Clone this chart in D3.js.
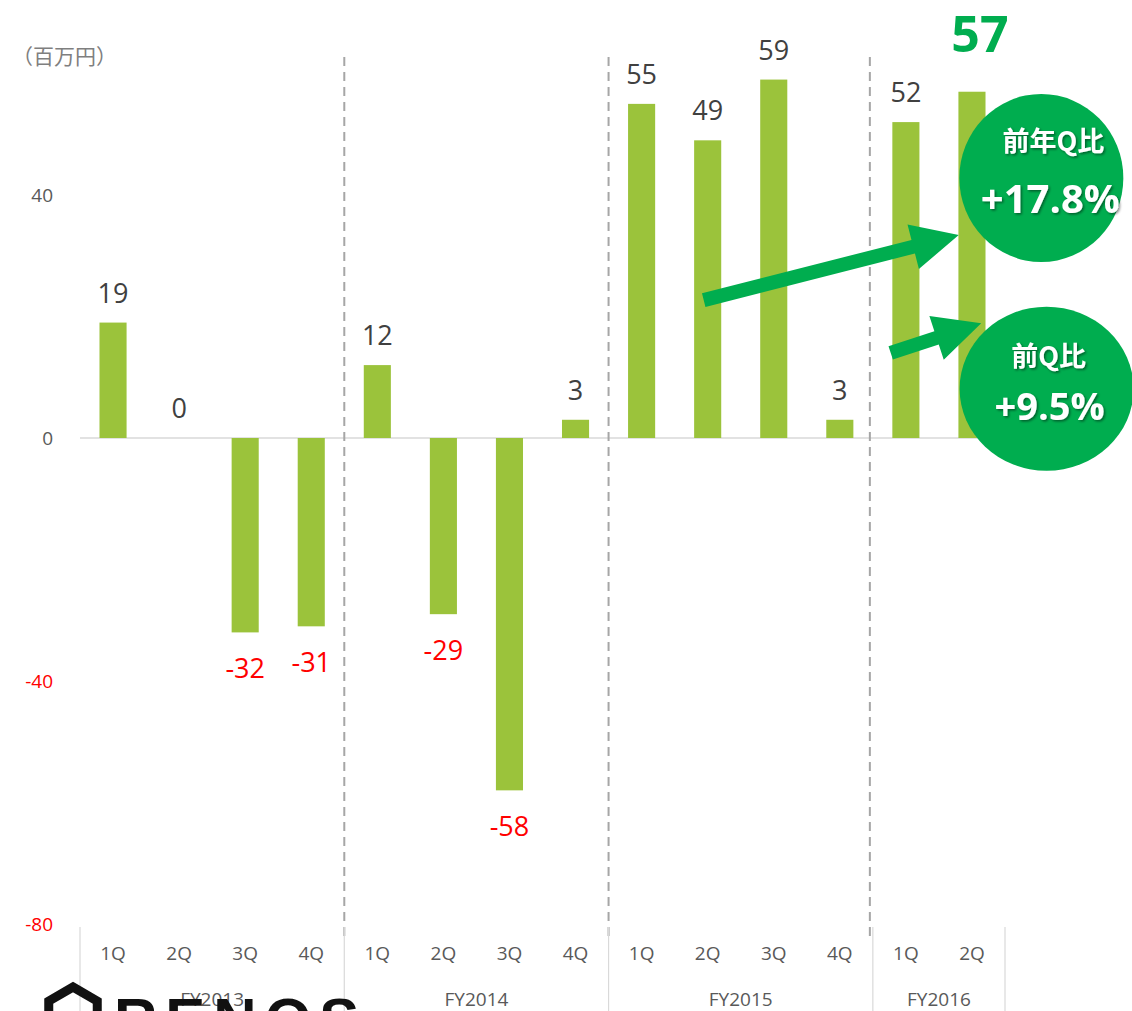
<!DOCTYPE html>
<html>
<head>
<meta charset="utf-8">
<title>quarterly profit (FY2013 - FY2016)</title>
<script src="https://d3js.org/d3.v7.min.js"></script>
<style>
body{ margin:0; background:#fff; }
svg{ display:block; }
.num{ font-family:"Open Sans","Noto Sans",sans-serif; }
</style>
</head>
<body>
<svg class="chart"></svg>
<script>
// data
var years = ["FY2013", "FY2014", "FY2015", "FY2016"];
var quarters = ["1Q","2Q","3Q","4Q", "1Q","2Q","3Q","4Q", "1Q","2Q","3Q","4Q", "1Q","2Q"];
var fiscal = ["FY2013","FY2013","FY2013","FY2013", "FY2014","FY2014","FY2014","FY2014",
              "FY2015","FY2015","FY2015","FY2015", "FY2016","FY2016"];
var values = [19, 0, -32, -31, 12, -29, -58, 3, 55, 49, 59, 3, 52, 57];
var yTicks = [-80, -40, 0, 40];
var unitLabel = "（百万円）";
var yoyLabel = ["前年Q比", "+17.8%"];
var qoqLabel = ["前Q比", "+9.5%"];

var width = 1132, height = 1011;
var green = "#9BC33B", accent = "#00AD4F";

var svg = d3.select(".chart").attr("width", width).attr("height", height);

var keys = values.map(function(d, i){ return i; });

var x = d3.scaleBand()
	.domain(keys)
	.range([80, 1005])
	.paddingInner(0.59)
	.paddingOuter(0.295);

var y = d3.scaleLinear()
	.domain([-80, 40])
	.range([924, 195]);

// position helper in "category units" (0 = left edge of plot)
function xf(f){ return x.range()[0] + f * x.step(); }

var defs = svg.append("defs");
var f = defs.append("filter").attr("id", "shadow").attr("x", "-20%").attr("y", "-20%")
	.attr("width", "140%").attr("height", "140%");
f.append("feDropShadow").attr("dx", 1.5).attr("dy", 1.5).attr("stdDeviation", 1)
	.attr("flood-color", "#000").attr("flood-opacity", 0.45);

// unit label
svg.append("text")
	.attr("x", 12).attr("y", 64)
	.style("font-family", "'Noto Sans CJK JP'")
	.style("font-size", "21px")
	.attr("fill", "#7f7f7f")
	.text(unitLabel);

// y tick labels
svg.append("g").selectAll("text")
	.data(yTicks)
	.enter().append("text")
	.attr("class", "num")
	.attr("x", 53)
	.attr("y", function(d){ return y(d); })
	.attr("dy", "0.35em")
	.attr("text-anchor", "end")
	.style("font-size", "19px")
	.attr("fill", function(d){ return d < 0 ? "#FF0000" : "#595959"; })
	.text(function(d){ return d; });

// zero line
svg.append("line")
	.attr("x1", x.range()[0]).attr("x2", x.range()[1])
	.attr("y1", y(0)).attr("y2", y(0))
	.attr("stroke", "#D9D9D9").attr("stroke-width", 1.5);

// bars
svg.append("g").selectAll("rect")
	.data(values)
	.enter().append("rect")
	.attr("x", function(d, i){ return x(i); })
	.attr("width", x.bandwidth())
	.attr("y", function(d){ return y(Math.max(0, d)); })
	.attr("height", function(d){ return Math.abs(y(d) - y(0)); })
	.attr("fill", green);

// value labels (the last one is drawn big and green)
var last = values.length - 1;
svg.append("g").selectAll("text")
	.data(values)
	.enter().append("text")
	.attr("class", "num")
	.attr("x", function(d, i){ return x(i) + x.bandwidth() / 2; })
	.attr("y", function(d, i){
		if(i === last) return y(d) - 40;
		return d < 0 ? y(d) + 46 : y(d) - 20;
	})
	.attr("text-anchor", "middle")
	.style("font-size", function(d, i){ return i === last ? "50px" : "27px"; })
	.style("font-weight", function(d, i){ return i === last ? "bold" : "normal"; })
	.attr("dx", function(d, i){ return i === last ? 8 : 0; })
	.attr("fill", function(d, i){
		if(i === last) return accent;
		return d < 0 ? "#FF0000" : "#404040";
	})
	.text(function(d){ return d; });

// group boundaries
var bounds = [0];
fiscal.forEach(function(d, i){ if(i > 0 && d !== fiscal[i - 1]) bounds.push(i); });
bounds.push(fiscal.length);

// dashed separators between fiscal years
svg.append("g").selectAll("line")
	.data(bounds.slice(1, -1))
	.enter().append("line")
	.attr("x1", function(d, i){ return xf(d) - (i === 2 ? 3 : 0); })
	.attr("x2", function(d, i){ return xf(d) - (i === 2 ? 3 : 0); })
	.attr("y1", 57).attr("y2", 940)
	.attr("stroke", "#A6A6A6").attr("stroke-width", 2)
	.attr("stroke-dasharray", "9,6");

// x axis: quarter labels
var xAxis = d3.axisBottom(x).tickSize(0).tickFormat(function(i){ return quarters[i]; });
var gx = svg.append("g")
	.attr("transform", "translate(0,940)")
	.call(xAxis);
gx.select(".domain").remove();
gx.selectAll("text")
	.attr("class", "num")
	.attr("dy", "0.71em")
	.attr("y", 7)
	.style("font-size", "19px")
	.attr("fill", "#595959");

// x axis: group dividers and FY labels
svg.append("g").selectAll("line")
	.data(bounds)
	.enter().append("line")
	.attr("x1", function(d){ return xf(d); })
	.attr("x2", function(d){ return xf(d); })
	.attr("y1", 927).attr("y2", height)
	.attr("stroke", "#D9D9D9").attr("stroke-width", 1.2);

svg.append("g").selectAll("text")
	.data(years)
	.enter().append("text")
	.attr("class", "num")
	.attr("x", function(d, i){ return (xf(bounds[i]) + xf(bounds[i + 1])) / 2; })
	.attr("y", 1006)
	.attr("text-anchor", "middle")
	.style("font-size", "19px")
	.attr("fill", "#595959")
	.text(function(d){ return d; });

// logo, cut off at the bottom edge
var logo = svg.append("g");
var hex = d3.range(6).map(function(k){
	var a = Math.PI / 3 * k - Math.PI / 2;
	return [73 + 28 * Math.cos(a), 1015 + 28 * Math.sin(a)];
});
logo.append("polygon")
	.attr("points", hex.map(function(p){ return p.join(","); }).join(" "))
	.attr("fill", "none").attr("stroke", "#111").attr("stroke-width", 9);
logo.append("text")
	.attr("x", 114).attr("y", 1040)
	.style("font-family", "'Liberation Sans', sans-serif")
	.style("font-size", "60px")
	.style("font-weight", "bold")
	.style("letter-spacing", "8px")
	.attr("fill", "#111")
	.text("RENOS");

// annotation arrows (in category units / data values)
var arrows = [
	{ from: [9.44, 22.7], to: [13.3, 33.4] },
	{ from: [12.27, 14.0], to: [13.64, 18.9] }
];
function arrowPoints(a){
	var x0 = xf(a.from[0]), y0 = y(a.from[1]);
	var x1 = xf(a.to[0]), y1 = y(a.to[1]);
	var dx = x1 - x0, dy = y1 - y0, len = Math.sqrt(dx * dx + dy * dy);
	var ux = dx / len, uy = dy / len, nx = -uy, ny = ux;
	var shaft = 7, head = 23, headLen = 47;
	var bx = x1 - ux * headLen, by = y1 - uy * headLen;
	var pts = [
		[x0 + nx * shaft, y0 + ny * shaft],
		[bx + nx * shaft, by + ny * shaft],
		[bx + nx * head, by + ny * head],
		[x1, y1],
		[bx - nx * head, by - ny * head],
		[bx - nx * shaft, by - ny * shaft],
		[x0 - nx * shaft, y0 - ny * shaft]
	];
	return pts.map(function(p){ return p.join(","); }).join(" ");
}
svg.append("g").selectAll("polygon")
	.data(arrows)
	.enter().append("polygon")
	.attr("points", arrowPoints)
	.attr("fill", accent);

// bubbles
var bubbles = [
	{ cx: 14.55, cy: 42.8, rx: 82, ry: 84, lines: yoyLabel, y1: 151, y2: 213, s1: 27, s2: 40, dx1: 12, dx2: 9 },
	{ cx: 14.63, cy: 8.1, rx: 87, ry: 82, lines: qoqLabel, y1: 366, y2: 420, s1: 27, s2: 38, dx1: 2, dx2: 3 }
];
var gb = svg.append("g").selectAll("g")
	.data(bubbles)
	.enter().append("g");
gb.append("ellipse")
	.attr("cx", function(d){ return xf(d.cx); })
	.attr("cy", function(d){ return y(d.cy); })
	.attr("rx", function(d){ return d.rx; })
	.attr("ry", function(d){ return d.ry; })
	.attr("fill", accent);
gb.append("text")
	.attr("x", function(d){ return xf(d.cx) + d.dx1; })
	.attr("y", function(d){ return d.y1; })
	.attr("text-anchor", "middle")
	.style("font-family", "'Noto Sans CJK JP'")
	.style("font-weight", "bold")
	.style("font-size", function(d){ return d.s1 + "px"; })
	.attr("fill", "#fff")
	.attr("filter", "url(#shadow)")
	.text(function(d){ return d.lines[0]; });
gb.append("text")
	.attr("class", "num")
	.attr("x", function(d){ return xf(d.cx) + d.dx2; })
	.attr("y", function(d){ return d.y2; })
	.attr("text-anchor", "middle")
	.style("font-weight", "bold")
	.style("font-size", function(d){ return d.s2 + "px"; })
	.attr("fill", "#fff")
	.attr("filter", "url(#shadow)")
	.text(function(d){ return d.lines[1]; });
</script>
</body>
</html>
